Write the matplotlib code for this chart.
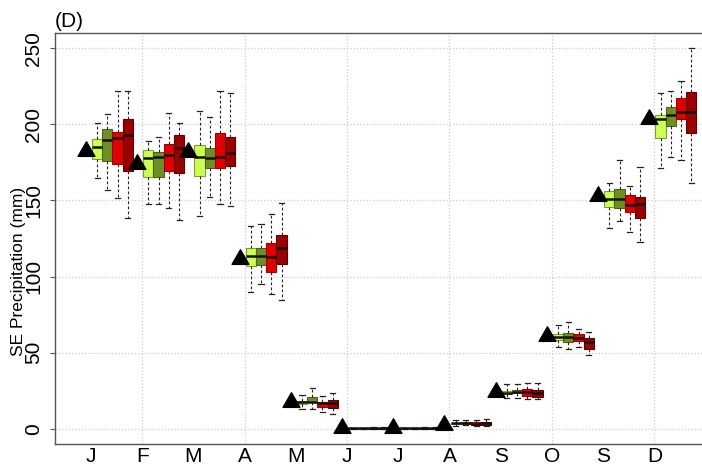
import matplotlib.pyplot as plt
import numpy as np
from matplotlib.path import Path

plt.rcParams['font.family'] = ['Liberation Sans', 'DejaVu Sans']

months = ["J", "F", "M", "A", "M", "J", "J", "A", "S", "O", "S", "D"]

# observed monthly values (triangles)
observed = [182.6, 174.1, 181.6, 111.7, 17.7, 0.3, 0.3, 2.6, 24.3, 61.0, 152.8, 203.6]

# box stats per scenario: (whisker low, q1, median, q3, whisker high)
light_green = [(164.5, 177.2, 185.2, 190.3, 200.6), (147.4, 165.5, 178.0, 183.1, 189.0),
               (140.0, 166.2, 178.7, 186.4, 208.7), (89.7, 107.2, 113.5, 118.6, 133.4),
               (12.9, 16.2, 17.3, 18.4, 22.3), (0.0, 0.0, 0.2, 0.4, 0.8),
               (0.0, 0.0, 0.2, 0.4, 0.8), (2.0, 3.0, 3.5, 4.0, 5.5),
               (20.1, 22.8, 23.8, 24.5, 29.5), (53.4, 58.4, 60.6, 62.1, 68.2),
               (132.1, 145.9, 150.9, 156.2, 161.6), (171.1, 190.7, 203.2, 206.4, 220.7)]
olive = [(156.8, 176.1, 189.4, 196.6, 206.5), (147.4, 165.2, 178.7, 181.8, 191.4),
         (152.4, 171.5, 178.0, 184.6, 204.5), (95.1, 107.6, 113.5, 119.0, 134.5),
         (13.3, 17.5, 17.9, 21.2, 27.1), (0.0, 0.0, 0.2, 0.4, 0.8),
         (0.0, 0.0, 0.2, 0.4, 0.8), (2.2, 3.0, 3.6, 4.2, 5.8),
         (20.5, 23.4, 24.1, 25.6, 29.5), (52.5, 57.3, 60.2, 62.7, 70.0),
         (136.5, 144.8, 150.9, 157.5, 176.5), (178.7, 198.8, 206.4, 211.5, 221.8)]
red = [(151.4, 173.9, 190.7, 194.7, 222.0), (145.2, 169.3, 179.6, 186.8, 207.6),
       (147.4, 171.5, 178.7, 194.0, 222.0), (88.6, 103.2, 113.1, 121.8, 141.1),
       (10.7, 14.6, 16.8, 17.9, 21.7), (0.0, 0.0, 0.2, 0.4, 0.9),
       (0.0, 0.0, 0.2, 0.4, 0.9), (1.8, 2.8, 3.4, 4.3, 6.0),
       (19.5, 21.7, 24.1, 26.2, 30.4), (53.4, 57.9, 59.9, 62.3, 65.6),
       (129.1, 142.6, 147.0, 153.5, 159.4), (176.5, 203.2, 208.2, 217.0, 228.5)]
dark_red = [(138.7, 169.5, 192.9, 203.2, 221.8), (137.1, 168.2, 184.2, 192.9, 200.6),
            (146.5, 172.8, 180.9, 191.8, 220.7), (84.6, 108.3, 119.0, 127.3, 148.5),
            (9.8, 13.6, 16.8, 18.6, 23.8), (0.0, 0.0, 0.2, 0.5, 1.0),
            (0.0, 0.0, 0.2, 0.5, 1.0), (1.5, 2.7, 3.5, 4.5, 6.5),
            (19.5, 21.2, 23.8, 25.6, 30.4), (48.6, 52.5, 57.3, 59.5, 63.5),
            (122.9, 138.3, 147.6, 152.4, 172.1), (161.2, 194.0, 208.2, 221.3, 250.2)]

scenarios = [light_green, olive, red, dark_red]
fills = ["#ccff55", "#6f8f25", "#e00000", "#990000"]
edges = ["#7f9f30", "#4a6418", "#a00000", "#600000"]

x = np.arange(1, 13)

fig = plt.figure(figsize=(7.02, 4.73), dpi=100)
ax = fig.add_axes([0.0783, 0.0613, 0.9217, 0.869])

# grid
ax.yaxis.grid(True, color="#cccccc", linestyle=":", linewidth=0.9)
for g in range(2, 13, 2):
    ax.axvline(g, color="#cccccc", linestyle=":", linewidth=0.9, zorder=0)
ax.set_axisbelow(True)

for k, (sc, fc, ec) in enumerate(zip(scenarios, fills, edges)):
    stats = [dict(whislo=s[0], q1=s[1], med=s[2], q3=s[3], whishi=s[4]) for s in sc]
    ax.bxp(stats, positions=x + 0.12 + 0.2 * k, widths=0.2, patch_artist=True,
           showfliers=False, manage_ticks=False, capwidths=0.1,
           boxprops=dict(facecolor=fc, edgecolor=ec, linewidth=0.8),
           whiskerprops=dict(color="#222222", linestyle=(0, (2.5, 2)), linewidth=0.8),
           capprops=dict(color="#222222", linewidth=0.9),
           medianprops=dict(color="#111111", linewidth=1.8))

tri = Path([(0, 1), (-0.866, -0.5), (0.866, -0.5), (0, 1)], closed=True)
ax.plot(x - 0.1, observed, linestyle="none", marker=tri, markersize=14,
        color="black", zorder=5)

ax.set_xlim(0.297, 12.93)
ax.set_ylim(-10, 260)
ax.set_xticks(x)
ax.set_xticklabels(months)
ax.set_yticks([0, 50, 100, 150, 200, 250])
ax.tick_params(axis="x", length=0, labelsize=15, pad=2)
ax.tick_params(axis="y", length=3.6, labelsize=15, pad=5, labelrotation=90, color="#555555")
for lab in ax.get_yticklabels():
    lab.set_va("center")

for s in ["left", "bottom", "top"]:
    ax.spines[s].set_color("#555555")
    ax.spines[s].set_linewidth(1.0)
ax.spines["right"].set_visible(False)

ax.set_ylabel("SE Precipitation (mm)", fontsize=12.5)
ax.yaxis.set_label_coords(-0.045, 0.42)
ax.set_title("(D)", loc="left", fontsize=15, pad=4)

fig.savefig("out.png", dpi=100)
